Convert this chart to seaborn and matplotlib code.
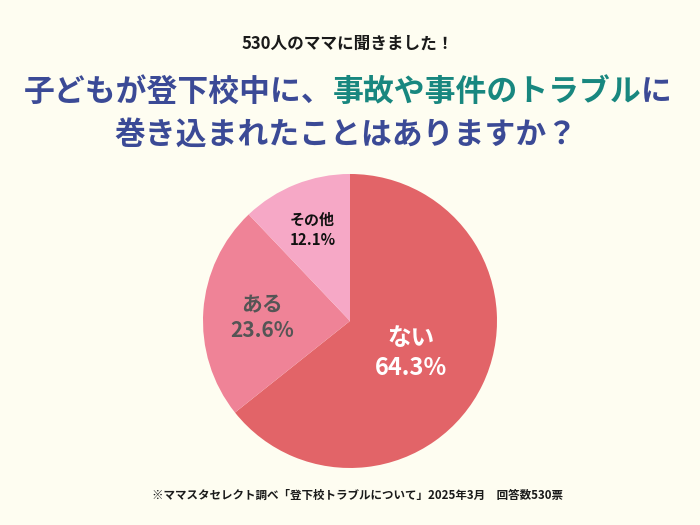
import numpy as np
import seaborn as sns
import matplotlib.pyplot as plt

# データ
labels = ['ない', 'ある', 'その他']
values = [64.3, 23.6, 12.1]
pie_colors = ['#E26468', '#EF8397', '#F6A8C6']
label_colors = ['white', '#555555', '#111111']
label_sizes = [17, 15, 10.8]
label_radius = [0.46, 0.60, 0.69]

subtitle = '530人のママに聞きました！'
title_parts = [('子どもが登下校中に、', '#3B4A96'),
               ('事故や事件のトラブル', '#18877F'),
               ('に', '#3B4A96')]
title_line2 = '巻き込まれたことはありますか？'
footnote = '※ママスタセレクト調べ「登下校トラブルについて」2025年3月　回答数530票'

BG = '#FEFDF1'

sns.set_theme(style='white')
plt.rcParams['font.family'] = ['Noto Sans CJK JP', 'DejaVu Sans']
plt.rcParams['font.weight'] = 'bold'

fig = plt.figure(figsize=(7, 5.25), dpi=100, facecolor=BG)

# 円グラフ
ax = fig.add_axes([0.5 - 0.21, 0.3886 - 0.28, 0.42, 0.56])
ax.set_facecolor(BG)
wedges, _ = ax.pie(values, colors=pie_colors, startangle=90, counterclock=False,
                   wedgeprops={'linewidth': 0})
ax.set_aspect('equal')
ax.set_xlim(-1, 1)
ax.set_ylim(-1, 1)

for w, lab, v, c, fs, r in zip(wedges, labels, values, label_colors, label_sizes, label_radius):
    ang = np.deg2rad((w.theta1 + w.theta2) / 2)
    ax.text(r * np.cos(ang), r * np.sin(ang) - 0.02, f'{lab}\n{v}%', ha='center', va='center',
            color=c, fontsize=fs, fontweight='bold', linespacing=1.3)

# タイトル
fig.text(0.497, 1 - 44 / 525, subtitle, ha='center', va='center', fontsize=12,
         fontweight='bold', color='#1a1a1a')

y1 = 1 - 92 / 525
texts = [fig.text(0, y1, s, ha='left', va='center', fontsize=22.2, fontweight='bold', color=c)
         for s, c in title_parts]
fig.canvas.draw()
r = fig.canvas.get_renderer()
widths = [t.get_window_extent(r).width / fig.bbox.width for t in texts]
x = 0.497 - sum(widths) / 2
for t, w in zip(texts, widths):
    t.set_x(x)
    x += w

fig.text(0.494, 1 - 135 / 525, title_line2, ha='center', va='center', fontsize=22.2,
         fontweight='bold', color='#3B4A96')

fig.text(0.51, 1 - 495 / 525, footnote, ha='center', va='center', fontsize=8.3,
         fontweight='bold', color='#1a1a1a')

fig.savefig('out.png', dpi=100, facecolor=BG)
